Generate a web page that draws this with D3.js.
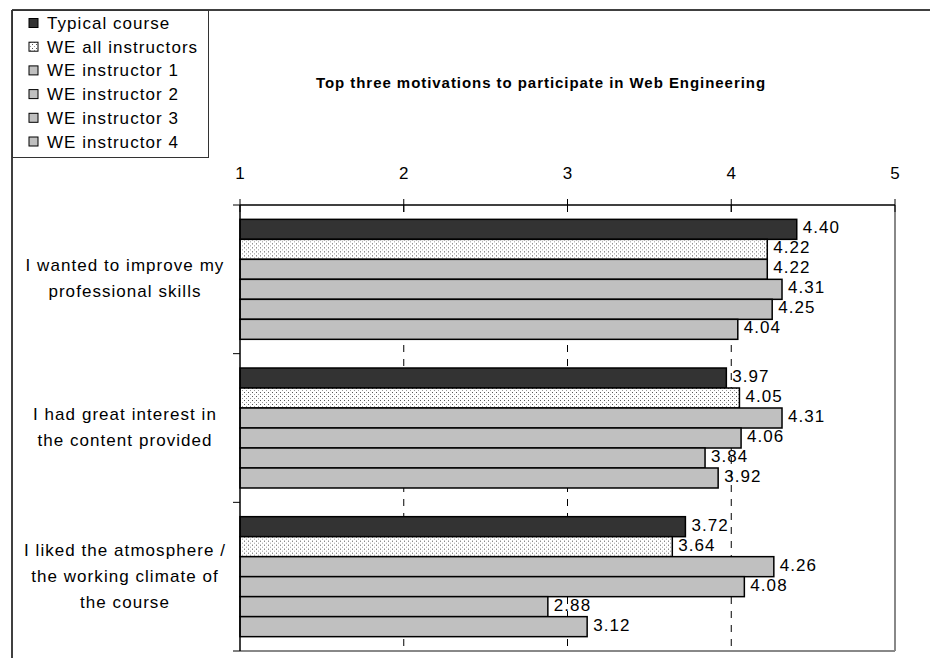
<!DOCTYPE html>
<html>
<head>
<meta charset="utf-8">
<script src="https://cdn.jsdelivr.net/npm/d3@7"></script>
<style>
  html, body { margin: 0; padding: 0; background: #fff; }
  svg { display: block; font-family: "Liberation Sans", Arial, sans-serif; }
</style>
</head>
<body>
<svg id="chart" width="930" height="658"></svg>
<script>
// Survey answers: mean agreement (1–5) per motivation
const categories = [
  ["I wanted to improve my", "professional skills"],
  ["I had great interest in", "the content provided"],
  ["I liked the atmosphere /", "the working climate of", "the course"]
];
const seriesNames = [
  "Typical course", "WE all instructors",
  "WE instructor 1", "WE instructor 2", "WE instructor 3", "WE instructor 4"
];
const typicalCourse = [4.40, 3.97, 3.72];
const weAll        = [4.22, 4.05, 3.64];
const weInstr1     = [4.22, 4.31, 4.26];
const weInstr2     = [4.31, 4.06, 4.08];
const weInstr3     = [4.25, 3.84, 2.88];
const weInstr4     = [4.04, 3.92, 3.12];
const tickValues   = [1, 2, 3, 4, 5];
const chartTitle   = "Top three motivations to participate in Web Engineering";

const seriesValues = [typicalCourse, weAll, weInstr1, weInstr2, weInstr3, weInstr4];
const fills = ["#333333", "url(#dots)", "#c0c0c0", "#c0c0c0", "#c0c0c0", "#c0c0c0"];

const svg = d3.select("#chart");
const font = 17;
const spacing = 1.05;

// dotted fill pattern
const defs = svg.append("defs");
const pat = defs.append("pattern").attr("id", "dots")
  .attr("patternUnits", "userSpaceOnUse").attr("width", 4).attr("height", 4);
pat.append("rect").attr("width", 4).attr("height", 4).attr("fill", "#fff");
pat.append("rect").attr("x", 0).attr("y", 0).attr("width", 1).attr("height", 1).attr("fill", "#555");
pat.append("rect").attr("x", 2).attr("y", 2).attr("width", 1).attr("height", 1).attr("fill", "#999");

const plot = { left: 240, right: 895, top: 205, bottom: 651 };

const x = d3.scaleLinear().domain([1, 5]).range([plot.left, plot.right]);
const catKeys = categories.map((c, i) => i);
const y = d3.scaleBand().domain(catKeys).range([plot.top, plot.bottom])
  .paddingInner(0.193).paddingOuter(0.0965);
const ySub = d3.scaleBand().domain(d3.range(seriesNames.length)).range([0, y.bandwidth()]);

// outer chart frame
svg.append("line").attr("x1", 12).attr("x2", 930).attr("y1", 10).attr("y2", 10)
  .attr("stroke", "#000").attr("stroke-width", 1.5);
svg.append("line").attr("x1", 12).attr("x2", 12).attr("y1", 10).attr("y2", 658)
  .attr("stroke", "#000").attr("stroke-width", 1.5);

// plot border: right and bottom in gray
svg.append("line").attr("x1", plot.right).attr("x2", plot.right)
  .attr("y1", plot.top).attr("y2", plot.bottom).attr("stroke", "#888").attr("stroke-width", 2);
svg.append("line").attr("x1", plot.left).attr("x2", plot.right)
  .attr("y1", plot.bottom).attr("y2", plot.bottom).attr("stroke", "#888").attr("stroke-width", 2);

// dashed gridlines
svg.append("g").selectAll("line").data(tickValues.slice(1, -1)).join("line")
  .attr("x1", d => x(d)).attr("x2", d => x(d))
  .attr("y1", plot.top).attr("y2", plot.bottom)
  .attr("stroke", "#000").attr("stroke-width", 1).attr("stroke-dasharray", "7,7");

// bars
const groups = svg.append("g").selectAll("g").data(catKeys).join("g")
  .attr("transform", d => `translate(0,${y(d)})`);
groups.each(function (ci) {
  const g = d3.select(this);
  seriesValues.forEach((vals, si) => {
    g.append("rect")
      .attr("x", x(1)).attr("y", ySub(si))
      .attr("width", x(vals[ci]) - x(1)).attr("height", ySub.bandwidth())
      .attr("fill", fills[si]).attr("stroke", "#000").attr("stroke-width", 1.5);
  });
  seriesValues.forEach((vals, si) => {
    g.append("text")
      .attr("x", x(vals[ci]) + 6).attr("y", ySub(si) + ySub.bandwidth() / 2 + 4)
      .attr("font-size", font).attr("letter-spacing", spacing).attr("fill", "#000")
      .text(vals[ci].toFixed(2));
  });
});

// top value axis
svg.append("line").attr("x1", plot.left).attr("x2", plot.right)
  .attr("y1", plot.top).attr("y2", plot.top).attr("stroke", "#000").attr("stroke-width", 1.5);
svg.append("g").selectAll("line").data(tickValues).join("line")
  .attr("x1", d => x(d)).attr("x2", d => x(d))
  .attr("y1", plot.top - 6).attr("y2", plot.top + 7)
  .attr("stroke", "#000").attr("stroke-width", 1);
svg.append("g").selectAll("text").data(tickValues).join("text")
  .attr("x", d => x(d)).attr("y", plot.top - 26)
  .attr("text-anchor", "middle").attr("font-size", font).text(d => d);

// left category axis
svg.append("line").attr("x1", plot.left).attr("x2", plot.left)
  .attr("y1", plot.top).attr("y2", plot.bottom).attr("stroke", "#000").attr("stroke-width", 1.5);
const bounds = d3.range(categories.length + 1).map(i => plot.top + i * (plot.bottom - plot.top) / categories.length);
svg.append("g").selectAll("line").data(bounds).join("line")
  .attr("x1", plot.left - 7).attr("x2", plot.left)
  .attr("y1", d => d).attr("y2", d => d).attr("stroke", "#000").attr("stroke-width", 1);

const lineH = 26;
categories.forEach((lines, ci) => {
  const cy = y(ci) + y.bandwidth() / 2;
  const t = svg.append("text").attr("text-anchor", "middle").attr("font-size", font)
    .attr("letter-spacing", spacing);
  lines.forEach((ln, li) => {
    t.append("tspan").attr("x", 125)
      .attr("y", cy + (li - (lines.length - 1) / 2) * lineH + 5)
      .text(ln);
  });
});

// title
svg.append("text").attr("x", 541).attr("y", 88).attr("text-anchor", "middle")
  .attr("font-size", 15).attr("font-weight", "bold").attr("letter-spacing", 0.95)
  .text(chartTitle);

// legend
const leg = svg.append("g");
leg.append("rect").attr("x", 12.5).attr("y", 10.5).attr("width", 196).attr("height", 147)
  .attr("fill", "#fff").attr("stroke", "#333").attr("stroke-width", 1);
seriesNames.forEach((name, i) => {
  const cy = 23 + i * 23.7;
  leg.append("rect").attr("x", 29).attr("y", cy - 4.5).attr("width", 9).attr("height", 9)
    .attr("fill", fills[i]).attr("stroke", "#000").attr("stroke-width", 1);
  leg.append("text").attr("x", 47).attr("y", cy + 6).attr("font-size", font)
    .attr("letter-spacing", spacing).text(name);
});
</script>
</body>
</html>
